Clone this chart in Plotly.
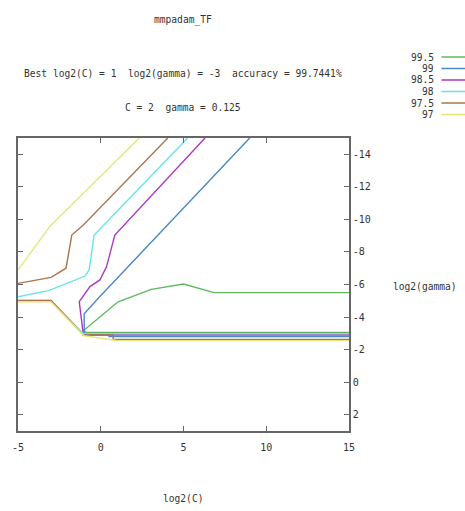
import plotly.graph_objects as go

# ---------------- data ----------------
levels = ["99.5", "99", "98.5", "98", "97.5", "97"]
colors = ["#5fb85f", "#4a88c6", "#a83ac2", "#66e4e8", "#a8774e", "#e6e67a"]

x_995 = [15, 6.85, 5.0, 3.05, 1.05, -1.0, -0.9, 15]
y_995 = [-5.5, -5.5, -6.03, -5.7, -4.94, -3.2, -3.05, -3.05]

x_99 = [9.0, 3.05, 1.65, 1.05, -0.15, -1.0, -1.0, 0.5, 0.5, 15]
y_99 = [-15, -8.63, -7.1, -6.48, -5.15, -4.2, -2.95, -2.95, -2.8, -2.8]

x_985 = [6.3, 0.85, 0.35, -0.05, -0.65, -1.2, -1.3, -1.05, 15]
y_985 = [-15, -9.04, -7.1, -6.28, -5.87, -5.15, -4.95, -2.9, -2.9]

x_98 = [5.25, -0.4, -0.7, -0.95, -3.15, -5, None, -5, -3, -1.05, 15]
y_98 = [-15, -9.04, -6.89, -6.52, -5.62, -5.25, None, -5.02, -5.02, -2.98, -2.98]

x_975 = [4.05, -1.05, -1.75, -2.1, -3, -5, None, -5, -3, -1.05, 0.75, 0.75, 15]
y_975 = [-15, -9.66, -9.04, -7.0, -6.44, -6.07, None, -5.02, -5.02, -2.9, -2.9, -2.63, -2.63]

x_97 = [2.33, -3, -5, None, -5, -3, -1, 1, 15]
y_97 = [-15, -9.66, -6.9, None, -4.93, -4.93, -2.85, -2.55, -2.55]

xs = [x_995, x_99, x_985, x_98, x_975, x_97]
ys = [y_995, y_99, y_985, y_98, y_975, y_97]

x_ticks = [-5, 0, 5, 10, 15]
y_ticks = [-14, -12, -10, -8, -6, -4, -2, 0, 2]

title = "mmpadam_TF"
sub1 = "Best log2(C) = 1  log2(gamma) = -3  accuracy = 99.7441%"
sub2 = "C = 2  gamma = 0.125"

# ---------------- layout geometry ----------------
W, H = 465, 511
L, R, T, B = 16, 349, 138, 431
FONT = "DejaVu Sans Mono"
TXT = "#333333"
AX = "#666666"


def px(xp):
    return (xp - L) / (R - L)


def py(yp):
    return (B - yp) / (B - T)


fig = go.Figure()
# gnuplot order: 99.5 first ... 97 last
for lev, col, x, y in zip(levels, colors, xs, ys):
    fig.add_trace(go.Scatter(x=x, y=y, mode="lines", name=lev,
                             line=dict(color=col, width=1.4),
                             connectgaps=False, showlegend=False,
                             hoverinfo="skip"))

ann = [
    dict(text=title, x=px(182), y=py(20)),
    dict(text=sub1, x=px(182), y=py(73)),
    dict(text=sub2, x=px(182), y=py(107)),
    dict(text="log2(gamma)", x=px(425), y=py(286)),
    dict(text="log2(C)", x=px(182), y=py(498)),
]
annotations = []
for a in ann:
    annotations.append(dict(xref="paper", yref="paper", showarrow=False,
                            xanchor="center", yanchor="middle",
                            font=dict(family=FONT, size=9.6, color=TXT), **a))

shapes = []
leg_y = [57, 68.5, 80, 91.5, 103, 114.5]
for lev, col, ly in zip(levels, colors, leg_y):
    annotations.append(dict(xref="paper", yref="paper", showarrow=False,
                            x=px(437), y=py(ly), xanchor="right", yanchor="middle",
                            text=lev, font=dict(family=FONT, size=9.6, color=TXT)))
    shapes.append(dict(type="line", xref="paper", yref="paper",
                       x0=px(442), x1=px(475), y0=py(ly), y1=py(ly),
                       line=dict(color=col, width=1.3)))

fig.update_layout(
    width=W, height=H,
    margin=dict(l=L, r=W - R, t=T, b=H - B, pad=0),
    paper_bgcolor="white", plot_bgcolor="white",
    showlegend=False,
    annotations=annotations, shapes=shapes,
    xaxis=dict(range=[-5, 15], tickmode="array", tickvals=x_ticks,
               ticktext=[str(v) for v in x_ticks],
               ticks="inside", ticklen=5, tickcolor=AX, tickwidth=1,
               showline=True, linecolor=AX, linewidth=1.5, mirror="ticks",
               showgrid=False, zeroline=False, ticklabelstandoff=6,
               tickfont=dict(family=FONT, size=10, color=TXT)),
    yaxis=dict(range=[3, -15], side="right", tickmode="array", tickvals=y_ticks,
               ticktext=[str(v) for v in y_ticks],
               ticks="inside", ticklen=5, tickcolor=AX, tickwidth=1,
               showline=True, linecolor=AX, linewidth=1.5, mirror="ticks",
               showgrid=False, zeroline=False,
               tickfont=dict(family=FONT, size=10, color=TXT)),
)

fig.write_html("out.html", config={"displayModeBar": False},
               post_script="document.body.style.margin='0px';"
                           "document.body.style.overflow='hidden';")
